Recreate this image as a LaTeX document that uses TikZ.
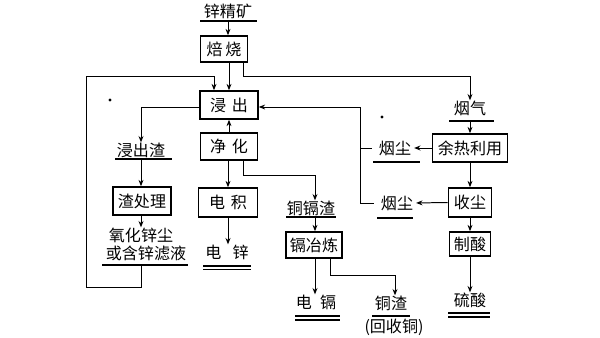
\documentclass[tikz,border=0pt]{standalone}
\usepackage{fontspec}
\setmainfont{Noto Sans CJK SC}
\usetikzlibrary{arrows.meta}
\tikzset{
  proc/.style={draw,line width=1.1pt,inner sep=0pt},
  lbl/.style={inner sep=0pt},
  flow/.style={-{Stealth[length=4.5pt,width=3.5pt]},line width=0.7pt},
  uline/.style={line width=0.9pt}
}
\begin{document}
\begin{tikzpicture}[x=0.025cm,y=-0.025cm,font=\fontsize{11.4}{13}\selectfont]
    \useasboundingbox (0,0) rectangle (600,337);
    \node[proc,minimum width=1.175cm,minimum height=0.65cm] (bs) at (224,49) {焙\hspace{2pt}烧};
    \node[proc,minimum width=1.45cm,minimum height=0.7cm] (jc) at (229,105) {浸\hspace{4pt}出};
    \node[proc,minimum width=1.425cm,minimum height=0.675cm] (jh) at (229,146.5) {净\hspace{4pt}化};
    \node[proc,minimum width=1.475cm,minimum height=0.725cm] (dj) at (228,202.5) {电\hspace{4pt}积};
    \node[proc,minimum width=1.45cm,minimum height=0.7cm] (zcl) at (142,201) {渣处理};
    \node[proc,minimum width=1.4cm,minimum height=0.65cm] (gyl) at (314,245) {镉冶炼};
    \node[proc,minimum width=1.875cm,minimum height=0.7cm] (yr) at (470,148) {余热利用};
    \node[proc,minimum width=1.075cm,minimum height=0.725cm] (sc) at (470,202.5) {收尘};
    \node[proc,minimum width=1.025cm,minimum height=0.6cm] (zs) at (470,244) {制酸};
    \node[lbl] (zjk) at (228,11) {锌精矿};
    \node[lbl] (jcz) at (141,150) {浸出渣};
    \node[lbl] (yhx) at (141,235) {氧化锌尘};
    \node[lbl] (hxl) at (146,253) {或含锌滤液};
    \node[lbl] (dx) at (227,252) {电\hspace{8pt}锌};
    \node[lbl] (tgz) at (311,208) {铜镉渣};
    \node[lbl] (dg) at (316,302) {电\hspace{6pt}镉};
    \node[lbl] (tz) at (391,303) {铜渣};
    \node[lbl] (hst) at (394,327) {(回收铜)};
    \node[lbl] (lsu) at (470,300) {硫酸};
    \node[lbl] (yq) at (470,108) {烟气};
    \node[lbl] (yc1) at (395,148) {烟尘};
    \node[lbl] (yc2) at (397,203) {烟尘};
    \draw[uline] (200,21) -- (257,21);
    \draw[uline] (115,159) -- (172,159);
    \draw[uline] (102,265) -- (188,265);
    \draw[uline] (203,266) -- (251,266) (203,269.5) -- (251,269.5);
    \draw[uline] (286,217) -- (336,217);
    \draw[uline] (295,316) -- (340,316) (295,320) -- (340,320);
    \draw[uline] (372,316) -- (410,316);
    \draw[uline] (448,313) -- (490,313) (448,317) -- (490,317);
    \draw[uline] (449,121) -- (494,121);
    \draw[uline] (373,162) -- (420,162);
    \draw[uline] (377,218) -- (413,218);
    \coordinate (zjk-u) at (228,21);
    \coordinate (jcz-u) at (141,159);
    \coordinate (hxl-u) at (141,265);
    \coordinate (tgz-u) at (315,217);
    \coordinate (yq-u) at (470,121);
    \coordinate (gas) at (243,76);
    \coordinate (ret) at (86,287);
    \coordinate (ret1) at (86,76);
    \coordinate (ret2) at (214,76);
    \coordinate (cd) at (243,175);
    \coordinate (cd2) at (315,175);
    \coordinate (cu1) at (330,275);
    \coordinate (cu2) at (395,275);
    \coordinate (dust) at (360,203);
    \coordinate (dust-top) at (360,107);
    \draw[flow] (zjk-u) -- (zjk-u |- bs.north);
    \draw[flow] (bs.south -| jc) -- (jc.north);
    \draw[flow] (bs.south -| gas) -- (gas) -- (gas -| yq) -- (yq.north);
    \draw[flow] (hxl-u) -- (hxl-u |- ret) -- (ret) -- (ret1) -- (ret2) -- (ret2 |- jc.north);
    \draw[flow] (jc.west |- dust-top) -| (jcz.north);
    \draw[flow] (jcz-u) -- (jcz-u |- zcl.north);
    \draw[flow] (zcl.south -| jcz-u) -- (jcz-u |- yhx.north);
    \draw[flow] (jh.north) -- (jc.south);
    \draw[flow] (jh.south -| dj) -- (dj.north);
    \draw[flow] (jh.south -| cd) -- (cd) -- (cd2) -- (cd2 |- tgz.north);
    \draw[flow] (dj.south) -- (dj.south |- dx.north);
    \draw[flow] (tgz-u) -- (tgz-u |- gyl.north);
    \draw[flow] (gyl.south -| tgz-u) -- (tgz-u |- dg.north);
    \draw[flow] (gyl.south -| cu1) -- (cu1) -- (cu2) -- (cu2 |- tz.north);
    \draw[flow] (yq-u) -- (yr.north);
    \draw[flow,shorten >=2pt] (yr.west) -- (yc1.east);
    \draw[flow] (yr.south) -- (sc.north);
    \draw[flow,shorten >=2pt] (sc.west) -- (yc2.east);
    \draw[flow] (sc.south) -- (zs.north);
    \draw[flow] (zs.south) -- (zs.south |- lsu.north);
    \draw[line width=0.7pt,shorten <=5pt] (yc1.west) -- (yc1.west -| dust);
    \draw[flow,shorten <=5pt] (yc2.west) -- (dust) -- (dust-top) -- (dust-top -| jc.east);
    \fill (110,100) circle (1.2pt);
    \fill (382,117) circle (1.2pt);
\end{tikzpicture}
\end{document}
